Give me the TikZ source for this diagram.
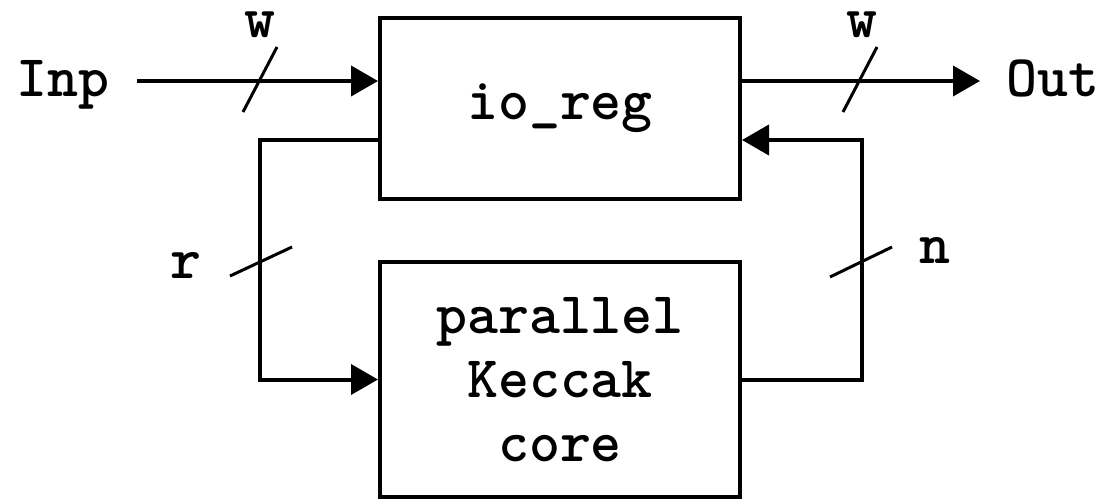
\documentclass[tikz,border=0pt]{standalone}
\usepackage{fontspec}
\usetikzlibrary{arrows.meta}
\newcommand{\bigtt}{\ttfamily\bfseries\fontsize{59}{64}\selectfont}
\tikzset{
  blk/.style={draw, line width=4pt, inner sep=0pt, align=center, font=\bigtt},
  arr/.style={line width=4pt, -{Triangle[length=27pt,width=30pt]}},
  slash/.style={line width=3pt},
  lbl/.style={inner sep=0pt, font=\bigtt},
  txt/.style={inner sep=0pt, font=\bigtt},
}
\begin{document}
\begin{tikzpicture}[x=1pt,y=-1pt]
\useasboundingbox (0,0) rectangle (1108,500);
\fill[white] (0,0) rectangle (1108,500);
\node[blk, minimum width=360pt, minimum height=181pt] (io) at (560,108.5) {io\_reg};
\node[blk, minimum width=360pt, minimum height=235pt] (core) at (560,379.5) {parallel\\Keccak\\core};
\node[txt, anchor=base west] (inp) at (16,97) {Inp};
\node[txt, anchor=base west] (out) at (1006,97) {Out};
\coordinate (inpc) at (137,81);
\coordinate (outc) at (980,81);
\coordinate (lc) at (260,140);
\coordinate (rc) at (862,140);
\draw[arr] (inpc) -- (io.west |- inpc);
\draw[arr] (io.east |- outc) -- (outc);
\draw[arr] (core.east) -| (rc) -- (io.east |- rc);
\draw[arr] (io.west |- lc) -- (lc) |- (core.west);
\draw[slash] (243,112) -- (277,47);
\draw[slash] (843,112) -- (877,47);
\draw[slash] (230,276) -- (292,247);
\draw[slash] (830,277) -- (892,247);
\node[lbl] (w1) at (260,25) {w};
\node[lbl] (w2) at (862,25) {w};
\node[lbl] (r) at (186,265) {r};
\node[lbl] (n) at (935,250) {n};
\end{tikzpicture}
\end{document}
